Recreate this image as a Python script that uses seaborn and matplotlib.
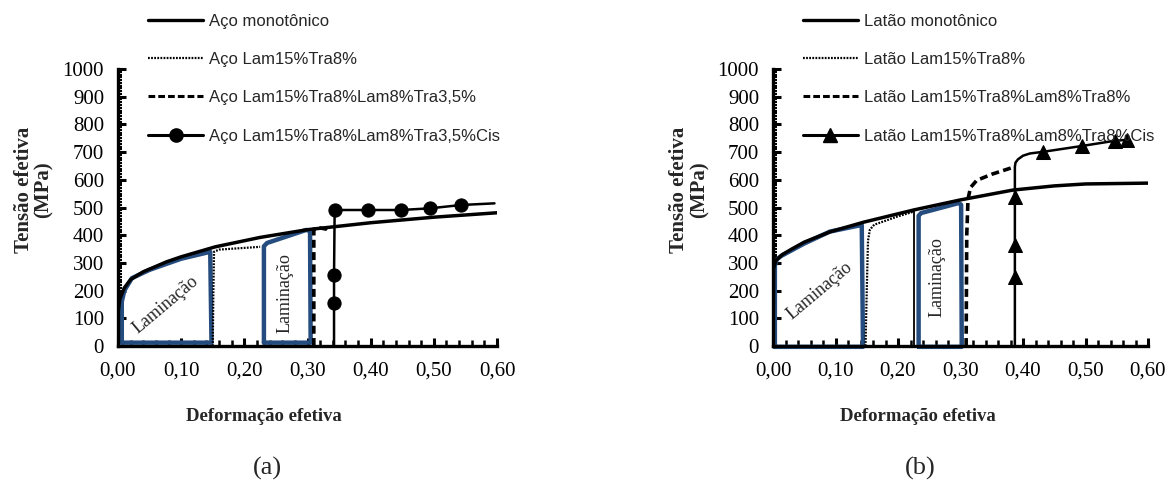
import matplotlib
matplotlib.use("Agg")
import matplotlib.pyplot as plt
from matplotlib.lines import Line2D
from matplotlib.ticker import MultipleLocator
import seaborn as sns
import pandas as pd

# ---------------- data : panel (a) Aço ----------------
a_mono_x = [0.000, 0.003, 0.010, 0.020, 0.040, 0.077, 0.100, 0.154, 0.225, 0.300, 0.400, 0.500, 0.600]
a_mono_y = [120, 170, 210, 240, 268, 304, 322, 358, 392, 420, 445, 465, 481]
a_lam_x = [0.150, 0.151, 0.152, 0.160, 0.225]
a_lam_y = [0, 200, 340, 348, 358]
a_lam2_x = [0.310, 0.310, 0.320, 0.330, 0.335]
a_lam2_y = [0, 422, 426, 422, 412]
a_cis_x = [0.342, 0.342, 0.342, 0.343, 0.396, 0.448, 0.494, 0.543, 0.596]
a_cis_y = [0, 154, 256, 491, 491, 491, 497, 509, 515]
a_box1_x = [0.006, 0.006, 0.010, 0.022, 0.050, 0.100, 0.146, 0.148, 0.006]
a_box1_y = [12, 160, 200, 245, 275, 315, 340, 12, 12]
a_box2_x = [0.231, 0.231, 0.236, 0.298, 0.304, 0.305, 0.231]
a_box2_y = [12, 360, 372, 419, 415, 12, 12]

a_labels = ["Aço monotônico", "Aço Lam15%Tra8%",
            "Aço Lam15%Tra8%Lam8%Tra3,5%", "Aço Lam15%Tra8%Lam8%Tra3,5%Cis"]

# ---------------- data : panel (b) Latão ----------------
b_mono_x = [0.000, 0.001, 0.005, 0.015, 0.030, 0.050, 0.091, 0.145, 0.225, 0.299, 0.384, 0.450, 0.500, 0.600]
b_mono_y = [0, 280, 310, 330, 350, 375, 412, 447, 491, 527, 563, 578, 585, 588]
b_lam_x = [0.148, 0.150, 0.152, 0.155, 0.162, 0.200, 0.225]
b_lam_y = [0, 200, 380, 420, 438, 468, 485]
b_unload_x = [0.225, 0.225]
b_unload_y = [0, 490]
b_lam2_x = [0.309, 0.310, 0.312, 0.316, 0.326, 0.350, 0.384]
b_lam2_y = [0, 400, 530, 572, 598, 620, 645]
b_cis_x = [0.387, 0.387, 0.387, 0.387, 0.387, 0.388, 0.392, 0.400, 0.411, 0.432, 0.494, 0.547, 0.566]
b_cis_y = [0, 250, 365, 539, 647, 662, 674, 687, 695, 701, 722, 741, 744]
b_box1_x = [0.003, 0.003, 0.006, 0.013, 0.050, 0.091, 0.142, 0.144, 0.003]
b_box1_y = [-3, 290, 312, 325, 370, 413, 437, -3, -3]
b_box2_x = [0.233, 0.233, 0.237, 0.297, 0.301, 0.302, 0.233]
b_box2_y = [-3, 470, 480, 516, 510, -3, -3]

b_labels = ["Latão monotônico", "Latão Lam15%Tra8%",
            "Latão Lam15%Tra8%Lam8%Tra8%", "Latão Lam15%Tra8%Lam8%Tra8%Cis"]

x_ticks = [0.0, 0.1, 0.2, 0.3, 0.4, 0.5, 0.6]
x_ticklabels = ["0,00", "0,10", "0,20", "0,30", "0,40", "0,50", "0,60"]
y_ticks = [0, 100, 200, 300, 400, 500, 600, 700, 800, 900, 1000]

xlabel = "Deformação efetiva"
ylabel = "Tensão efetiva\n(MPa)"
captions = ["(a)", "(b)"]
lam_text = "Laminação"

# ---------------- style ----------------
sns.set_theme(style="ticks")
plt.rcParams["font.family"] = ["Liberation Serif", "DejaVu Serif"]
plt.rcParams["axes.linewidth"] = 2.4

BLUE = "#254C7E"
fig = plt.figure(figsize=(11.66, 4.86), dpi=100)

ax_a = fig.add_axes([118 / 1166, 1 - 346 / 486, 379 / 1166, 277 / 486])
ax_b = fig.add_axes([773 / 1166, 1 - 346 / 486, 375 / 1166, 277 / 486])


def line(ax, x, y, **kw):
    df = pd.DataFrame({"x": x, "y": y})
    sns.lineplot(data=df, x="x", y="y", sort=False, estimator=None, ax=ax,
                 legend=False, **kw)


def panel(ax, mono, lam, lam2, cis, box1, box2, labels, marker, cis_marks,
          txt1, txt2, extra=None):
    line(ax, *box1, color=BLUE, lw=3.2, solid_joinstyle="round", clip_on=False, zorder=2)
    line(ax, *box2, color=BLUE, lw=3.2, solid_joinstyle="round", clip_on=False, zorder=2)
    line(ax, *mono, color="black", lw=2.5, zorder=3)
    line(ax, *lam, color="black", lw=1.6, linestyle=(0, (0.8, 0.6)), zorder=3)
    line(ax, *lam2, color="black", lw=2.6, linestyle=(0, (2.2, 1.2)), zorder=3)
    if extra is not None:
        line(ax, *extra, color="black", lw=1.3, zorder=3)
    line(ax, *cis, color="black", lw=1.8, marker=marker,
         markersize=9.5 if marker == "o" else 10,
         markevery=cis_marks, markeredgecolor="black", markerfacecolor="black", zorder=4)

    ax.text(txt1[0], txt1[1], lam_text, rotation=40, fontsize=13,
            ha="center", va="center", rotation_mode="anchor")
    ax.text(txt2[0], txt2[1], lam_text, rotation=90, fontsize=13,
            ha="center", va="center", rotation_mode="anchor")

    ax.set_xlim(0, 0.6)
    ax.set_ylim(0, 1000)
    ax.set_xticks(x_ticks)
    ax.set_xticklabels(x_ticklabels)
    ax.set_yticks(y_ticks)
    ax.xaxis.set_minor_locator(MultipleLocator(0.02))
    ax.yaxis.set_minor_locator(MultipleLocator(10))
    ax.tick_params(axis="both", which="major", direction="in", length=6, width=2.2,
                   labelsize=15, color="black", labelcolor="black")
    ax.tick_params(axis="x", which="major", pad=11)
    ax.tick_params(axis="y", which="major", pad=10)
    ax.tick_params(axis="both", which="minor", direction="in", length=4, width=1.8,
                   color="black")
    ax.tick_params(axis="y", which="minor", length=3, width=1.5)
    for s in ["top", "right"]:
        ax.spines[s].set_visible(False)
    for s in ["left", "bottom"]:
        ax.spines[s].set_color("black")
        ax.spines[s].set_linewidth(2.4)

    ax.set_xlabel(xlabel, fontsize=13.5, fontweight="bold")
    ax.set_ylabel(ylabel, fontsize=15, fontweight="bold", linespacing=1.0)
    ax.xaxis.set_label_coords(0.385, -0.225)
    ax.yaxis.set_label_coords(-0.17, 0.565)

    handles = [
        Line2D([], [], color="black", lw=2.4),
        Line2D([], [], color="black", lw=1.6, linestyle=(0, (0.8, 0.6))),
        Line2D([], [], color="black", lw=2.2, linestyle=(0, (2.2, 1.0))),
        Line2D([], [], color="black", lw=2.2, marker=marker, markersize=9.5),
    ]
    leg = ax.legend(handles, labels, loc="upper left", bbox_to_anchor=(0.062, 1.224),
                    frameon=False, handlelength=3.3, handletextpad=0.35,
                    labelspacing=1.4, borderaxespad=0,
                    prop={"family": ["Liberation Sans", "DejaVu Sans"], "size": 12})
    leg.set_clip_on(False)


panel(ax_a, (a_mono_x, a_mono_y), (a_lam_x, a_lam_y), (a_lam2_x, a_lam2_y),
      (a_cis_x, a_cis_y), (a_box1_x, a_box1_y), (a_box2_x, a_box2_y),
      a_labels, "o", [1, 2, 3, 4, 5, 6, 7], (0.075, 150), (0.265, 191))
panel(ax_b, (b_mono_x, b_mono_y), (b_lam_x, b_lam_y), (b_lam2_x, b_lam2_y),
      (b_cis_x, b_cis_y), (b_box1_x, b_box1_y), (b_box2_x, b_box2_y),
      b_labels, "^", [1, 2, 3, 9, 10, 11, 12], (0.074, 198), (0.262, 249),
      extra=(b_unload_x, b_unload_y))

fig.text(267 / 1166, 1 - 468 / 486, captions[0], fontsize=19, ha="center", va="center")
fig.text(920 / 1166, 1 - 468 / 486, captions[1], fontsize=19, ha="center", va="center")

fig.savefig("out.png", dpi=100)
